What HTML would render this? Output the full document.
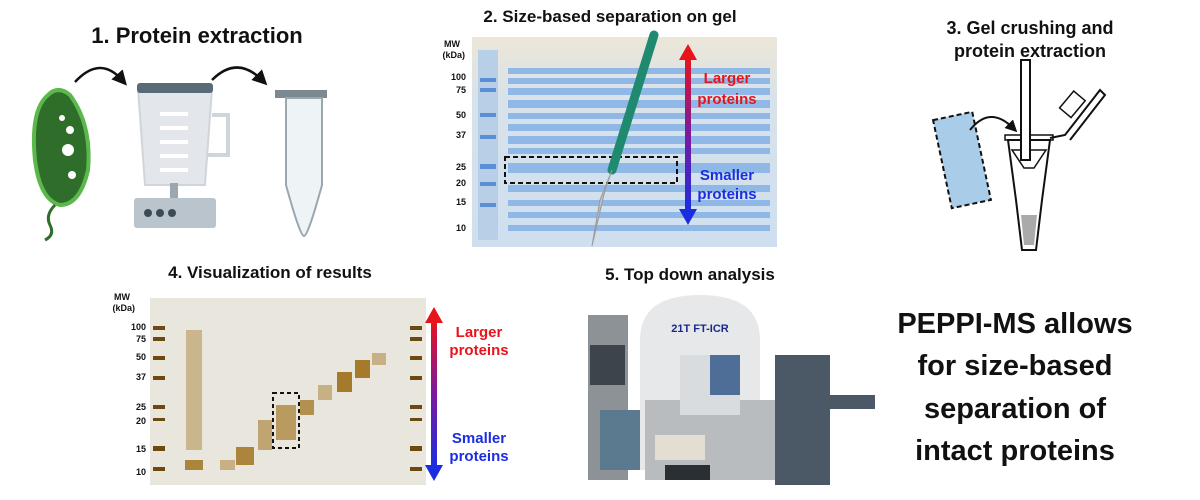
<!DOCTYPE html>
<html><head><meta charset="utf-8"><style>
body{margin:0;background:#fff;}
svg{display:block;font-family:"Liberation Sans",Arial,sans-serif;}
</style></head><body>
<svg width="1200" height="500" viewBox="0 0 1200 500" xmlns="http://www.w3.org/2000/svg">
<defs>
<linearGradient id="rb" x1="0" y1="0" x2="0" y2="1"><stop offset="0" stop-color="#e8141c"/><stop offset="0.5" stop-color="#7a1aa0"/><stop offset="1" stop-color="#1a2ee0"/></linearGradient>
<linearGradient id="gel2" x1="0" y1="0" x2="0" y2="1"><stop offset="0" stop-color="#ece6d8"/><stop offset="0.3" stop-color="#d8e2ea"/><stop offset="1" stop-color="#cfdff0"/></linearGradient>
<marker id="ah" markerWidth="6" markerHeight="6" refX="3" refY="3" orient="auto"><path d="M0,0 L6,3 L0,6 z" fill="#111"/></marker>
</defs>
<text x="197" y="43" font-size="22" font-weight="bold" text-anchor="middle" fill="#111">1. Protein extraction</text>
<text x="610" y="22" font-size="17" font-weight="bold" text-anchor="middle" fill="#111">2. Size-based separation on gel</text>
<text x="1030" y="34" font-size="18" font-weight="bold" text-anchor="middle" fill="#111">3. Gel crushing and</text>
<text x="1030" y="57" font-size="18" font-weight="bold" text-anchor="middle" fill="#111">protein extraction</text>
<text x="270" y="278" font-size="17" font-weight="bold" text-anchor="middle" fill="#111">4. Visualization of results</text>
<text x="690" y="280" font-size="17" font-weight="bold" text-anchor="middle" fill="#111">5. Top down analysis</text>
<g font-size="29" font-weight="bold" text-anchor="middle" fill="#111">
<text x="1015" y="333">PEPPI-MS allows</text>
<text x="1015" y="375">for size-based</text>
<text x="1015" y="418">separation of</text>
<text x="1015" y="460">intact proteins</text>
</g>
<!-- panel 1 -->
<path d="M75,82 Q100,55 122,80" fill="none" stroke="#111" stroke-width="2.5" marker-end="url(#ah)"/>
<path d="M212,80 Q237,55 262,80" fill="none" stroke="#111" stroke-width="2.5" marker-end="url(#ah)"/>
<path d="M48,95 Q30,110 35,160 Q40,200 60,205 Q80,205 88,170 Q92,125 70,95 Q58,85 48,95 Z" fill="#2f6e2a" stroke="#5bb84a" stroke-width="4"/>
<circle cx="62" cy="118" r="3" fill="#fff"/><circle cx="70" cy="130" r="4" fill="#fff"/><circle cx="68" cy="150" r="6" fill="#fff"/><circle cx="72" cy="175" r="4" fill="#fff"/>
<path d="M55,205 Q45,215 50,225 Q55,235 45,240" fill="none" stroke="#2f6e2a" stroke-width="3"/>
<path d="M138,88 L212,88 L205,185 L145,185 Z" fill="#e3e6ea" stroke="#d0d5da" stroke-width="2"/>
<path d="M212,115 L228,115 L228,155 L208,155" fill="none" stroke="#d0d5da" stroke-width="4"/>
<rect x="137" y="83" width="76" height="10" rx="3" fill="#5a6b78"/>
<g fill="#fff"><rect x="160" y="112" width="28" height="4"/><rect x="160" y="126" width="28" height="4"/><rect x="160" y="140" width="28" height="4"/><rect x="160" y="154" width="28" height="4"/><rect x="160" y="168" width="28" height="4"/></g>
<rect x="170" y="183" width="8" height="15" fill="#9aa7ae"/>
<rect x="134" y="198" width="82" height="30" rx="3" fill="#b9c4cc"/>
<circle cx="148" cy="213" r="4" fill="#3c4a55"/><circle cx="160" cy="213" r="4" fill="#3c4a55"/><circle cx="172" cy="213" r="4" fill="#3c4a55"/>
<rect x="275" y="90" width="52" height="8" fill="#7c8990"/>
<path d="M286,98 L322,98 L322,185 Q308,236 304,236 Q300,236 286,185 Z" fill="#eef3f6" stroke="#9aa7ae" stroke-width="2"/>
<!-- panel 2 gel -->
<rect x="472" y="37" width="305" height="210" fill="url(#gel2)"/>
<rect x="478" y="50" width="20" height="190" fill="#b8cfe8"/>
<g fill="#8fb8e6">
<rect x="508" y="68" width="262" height="6"/><rect x="508" y="78" width="262" height="6"/><rect x="508" y="88" width="262" height="7"/><rect x="508" y="100" width="262" height="8"/>
<rect x="508" y="113" width="262" height="6"/><rect x="508" y="124" width="262" height="7"/><rect x="508" y="136" width="262" height="8"/><rect x="508" y="148" width="262" height="6"/>
<rect x="508" y="163" width="262" height="10"/><rect x="508" y="185" width="262" height="7"/><rect x="508" y="200" width="262" height="6"/>
<rect x="508" y="212" width="262" height="6"/><rect x="508" y="225" width="262" height="6"/>
</g>
<g fill="#5a8fd6"><rect x="480" y="78" width="16" height="4"/><rect x="480" y="88" width="16" height="4"/><rect x="480" y="113" width="16" height="4"/><rect x="480" y="135" width="16" height="4"/><rect x="480" y="164" width="16" height="5"/><rect x="480" y="182" width="16" height="4"/><rect x="480" y="203" width="16" height="4"/></g>
<g font-size="9" font-weight="bold" fill="#111" text-anchor="end">
<text x="460" y="47">MW</text><text x="465" y="58">(kDa)</text>
<text x="466" y="80">100</text><text x="466" y="93">75</text><text x="466" y="118">50</text><text x="466" y="138">37</text>
<text x="466" y="170">25</text><text x="466" y="186">20</text><text x="466" y="205">15</text><text x="466" y="231">10</text>
</g>
<rect x="505" y="157" width="172" height="26" fill="none" stroke="#111" stroke-width="2" stroke-dasharray="5,3"/>
<line x1="612" y1="170" x2="654" y2="35" stroke="#1f8a70" stroke-width="9" stroke-linecap="round"/>
<path d="M612,170 L605,190 L592,246 L600,200 Z" fill="#c0c0c0" stroke="#999"/>
<rect x="685" y="57" width="6" height="155" fill="url(#rb)"/>
<path d="M679,60 L688,44 L697,60 Z" fill="#e8141c"/><path d="M679,209 L688,225 L697,209 Z" fill="#1a2ee0"/>
<g font-size="15" font-weight="bold" text-anchor="middle">
<text x="727" y="83" fill="#e8141c">Larger</text><text x="727" y="104" fill="#e8141c">proteins</text>
<text x="727" y="180" fill="#1a2ee0">Smaller</text><text x="727" y="199" fill="#1a2ee0">proteins</text>
</g>
<!-- panel 3 -->
<rect x="942" y="115" width="40" height="90" fill="#a9cde8" stroke="#111" stroke-width="2" stroke-dasharray="5,3" transform="rotate(-12 962 160)"/>
<path d="M970,130 Q990,105 1013,128" fill="none" stroke="#111" stroke-width="2" marker-end="url(#ah)"/>
<rect x="1005" y="135" width="48" height="5" fill="#fff" stroke="#111" stroke-width="1.5"/>
<path d="M1008,140 L1050,140 L1042,200 L1036,250 L1022,250 L1016,200 Z" fill="#fff" stroke="#111" stroke-width="2"/>
<path d="M1012,150 L1046,150 L1034,168 L1024,168 Z" fill="none" stroke="#111" stroke-width="1.5"/>
<rect x="1021" y="60" width="9" height="100" fill="#fff" stroke="#111" stroke-width="2"/>
<path d="M1050,138 L1065,135 L1100,90 L1105,95 L1070,140" fill="none" stroke="#111" stroke-width="2"/>
<rect x="1065" y="93" width="15" height="22" fill="#fff" stroke="#111" stroke-width="1.5" transform="rotate(40 1072 104)"/>
<path d="M1021,215 L1037,215 L1034,245 L1024,245 Z" fill="#aaa"/>
<!-- panel 4 gel -->
<rect x="150" y="298" width="276" height="187" fill="#e9e6de"/>
<g fill="#6b4a12">
<rect x="153" y="326" width="12" height="4"/><rect x="153" y="337" width="12" height="4"/><rect x="153" y="356" width="12" height="4"/><rect x="153" y="376" width="12" height="4"/><rect x="153" y="405" width="12" height="4"/><rect x="153" y="418" width="12" height="3"/><rect x="153" y="446" width="12" height="5"/><rect x="153" y="467" width="12" height="4"/>
<rect x="410" y="326" width="12" height="4"/><rect x="410" y="337" width="12" height="4"/><rect x="410" y="356" width="12" height="4"/><rect x="410" y="376" width="12" height="4"/><rect x="410" y="405" width="12" height="4"/><rect x="410" y="418" width="12" height="3"/><rect x="410" y="446" width="12" height="5"/><rect x="410" y="467" width="12" height="4"/>
</g>
<g fill="#a57a2a">
<rect x="186" y="330" width="16" height="120" opacity="0.45"/>
<rect x="185" y="460" width="18" height="10" opacity="0.9"/>
<rect x="220" y="460" width="15" height="10" opacity="0.5"/>
<rect x="236" y="447" width="18" height="18" opacity="0.9"/><rect x="258" y="420" width="14" height="30" opacity="0.6"/>
<rect x="276" y="405" width="20" height="35" opacity="0.7"/><rect x="300" y="400" width="14" height="15" opacity="0.8"/>
<rect x="318" y="385" width="14" height="15" opacity="0.5"/><rect x="337" y="372" width="15" height="20"/>
<rect x="355" y="360" width="15" height="18"/><rect x="372" y="353" width="14" height="12" opacity="0.5"/>
</g>
<rect x="273" y="393" width="26" height="55" fill="none" stroke="#111" stroke-width="2" stroke-dasharray="4,3"/>
<g font-size="9" font-weight="bold" fill="#111" text-anchor="end">
<text x="130" y="300">MW</text><text x="135" y="311">(kDa)</text>
<text x="146" y="330">100</text><text x="146" y="342">75</text><text x="146" y="360">50</text><text x="146" y="380">37</text>
<text x="146" y="410">25</text><text x="146" y="424">20</text><text x="146" y="452">15</text><text x="146" y="475">10</text>
</g>
<rect x="431" y="320" width="6" height="148" fill="url(#rb)"/>
<path d="M425,323 L434,307 L443,323 Z" fill="#e8141c"/><path d="M425,465 L434,481 L443,465 Z" fill="#1a2ee0"/>
<g font-size="15" font-weight="bold" text-anchor="middle">
<text x="479" y="337" fill="#e8141c">Larger</text><text x="479" y="355" fill="#e8141c">proteins</text>
<text x="479" y="443" fill="#1a2ee0">Smaller</text><text x="479" y="461" fill="#1a2ee0">proteins</text>
</g>
<!-- panel 5 photo -->
<path d="M640,340 Q640,295 700,295 Q760,295 760,340 L760,470 L640,470 Z" fill="#e6e8ea"/>
<rect x="588" y="315" width="40" height="165" fill="#8d9296"/>
<rect x="590" y="345" width="35" height="40" fill="#3d444c"/>
<rect x="600" y="410" width="40" height="60" fill="#5b7a90"/>
<rect x="645" y="400" width="130" height="80" fill="#b9bcbf"/>
<rect x="655" y="435" width="50" height="25" fill="#e4ddd2"/>
<rect x="665" y="465" width="45" height="15" fill="#2a2f33"/>
<rect x="680" y="355" width="60" height="60" fill="#d8dcdf"/>
<rect x="710" y="355" width="30" height="40" fill="#4e6e98"/>
<rect x="775" y="355" width="55" height="130" fill="#4b5866"/>
<rect x="830" y="395" width="45" height="14" fill="#4b5866"/>
<text x="700" y="332" font-size="11" font-weight="bold" fill="#1a2a8a" text-anchor="middle">21T FT-ICR</text>
</svg>
</body></html>
